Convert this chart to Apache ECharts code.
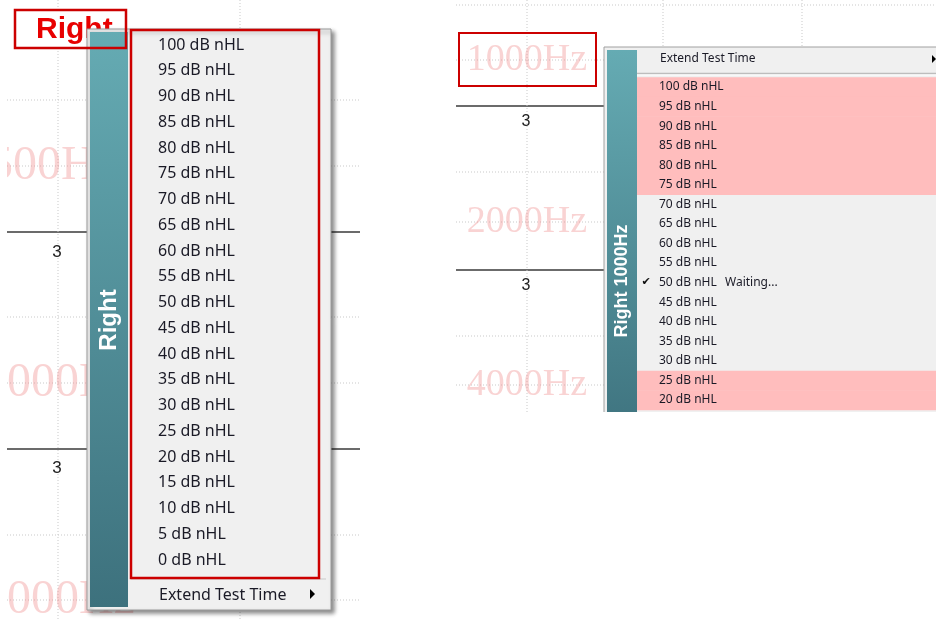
<!DOCTYPE html>
<html>
<head>
<meta charset="utf-8">
<script src="https://cdn.jsdelivr.net/npm/echarts@6/dist/echarts.min.js"></script>
<style>html,body{margin:0;padding:0;background:#fff}#main{width:936px;height:621px}</style>
</head>
<body>
<div id="main"></div>
<script>
// ---- content ----
const leftTitle = 'Right';
const leftSideLabel = 'Right';
const leftLevels = ['100 dB nHL','95 dB nHL','90 dB nHL','85 dB nHL','80 dB nHL','75 dB nHL','70 dB nHL',
  '65 dB nHL','60 dB nHL','55 dB nHL','50 dB nHL','45 dB nHL','40 dB nHL','35 dB nHL','30 dB nHL',
  '25 dB nHL','20 dB nHL','15 dB nHL','10 dB nHL','5 dB nHL','0 dB nHL'];
const extendLabel = 'Extend Test Time';
const leftFreqs = ['500Hz','1000Hz','2000Hz'];
const rightFreqs = ['1000Hz','2000Hz','4000Hz'];
const rowLabel = '3';
const rightSideLabel = 'Right 1000Hz';
const rightLevels = ['100 dB nHL','95 dB nHL','90 dB nHL','85 dB nHL','80 dB nHL','75 dB nHL','70 dB nHL',
  '65 dB nHL','60 dB nHL','55 dB nHL','50 dB nHL','45 dB nHL','40 dB nHL','35 dB nHL','30 dB nHL',
  '25 dB nHL','20 dB nHL'];
const rightHighlighted = ['100 dB nHL','95 dB nHL','90 dB nHL','85 dB nHL','80 dB nHL','75 dB nHL','25 dB nHL','20 dB nHL'];
const rightChecked = '50 dB nHL';
const statusText = 'Waiting...';

// ---- styles ----
const MENU_FONT = '"Noto Sans", "Open Sans", sans-serif';
const TXT = '#1a1a26';
const RED = '#cc0000';
const FAINT = 'rgba(240,150,150,0.42)';
const DOT = '#c9c9c9';
const g = [];

function hline(x1, x2, y, dotted, color, w) {
  g.push({type:'line', silent:true, shape:{x1:x1,y1:y,x2:x2,y2:y},
    style:{stroke:color || (dotted?DOT:'#3a3a3a'), lineWidth:w || (dotted?1:1.5), lineDash: dotted?[1,2]:null}});
}
function vline(x, y1, y2) {
  g.push({type:'line', silent:true, shape:{x1:x,y1:y1,x2:x,y2:y2}, style:{stroke:DOT, lineWidth:1, lineDash:[1,2]}});
}
function text(t, x, y, font, fill, align, extra) {
  g.push(Object.assign({type:'text', silent:true, x:x, y:y,
    style:{text:t, font:font, fill:fill, align:align||'left', verticalAlign:'middle'}}, extra||{}));
}
function tri(x, y, s) {
  g.push({type:'polygon', silent:true, shape:{points:[[x,y-s],[x,y+s],[x+s,y]]}, style:{fill:'#000'}});
}
function sidebar(x, y, w, h) {
  g.push({type:'rect', silent:true, shape:{x:x,y:y,width:w,height:h},
    style:{fill:new echarts.graphic.LinearGradient(0,0,0,1,[{offset:0,color:'#65abb3'},{offset:1,color:'#3d717d'}])}});
}

// ---------------- LEFT PANEL background ----------------
[100,166,317,383,535,600].forEach(y => hline(7, 360, y, true));
[232,449].forEach(y => hline(7, 360, y, false));
vline(58, 0, 621); vline(240, 0, 621);
leftFreqs.forEach((f, i) => text(f, i===0 ? -11 : -17, [166,383,600][i], '48px "Liberation Serif", serif', FAINT));
[252,468].forEach(y => text(rowLabel, 57, y, '17px "Liberation Sans", Arial, sans-serif', '#222', 'center'));
g.push({type:'rect', silent:true, shape:{x:0,y:0,width:7,height:621}, style:{fill:'#fff'}});

// title (under the menu)
g.push({type:'rect', silent:true, shape:{x:15,y:10,width:111,height:38}, style:{fill:'#fff'}});
text(leftTitle, 36, 30, 'bold 30px "Liberation Sans", Arial, sans-serif', '#e80000');

// ---------------- LEFT MENU ----------------
g.push({type:'rect', silent:true, shape:{x:87,y:29,width:244,height:581},
  style:{fill:'#f0f0f0', stroke:'#9a9a9a', lineWidth:1, shadowBlur:4, shadowOffsetX:3, shadowOffsetY:3, shadowColor:'rgba(0,0,0,0.45)'}});
sidebar(90, 32, 38, 575);
text(leftSideLabel, 109, 320, 'bold 24px "Liberation Sans", Arial, sans-serif', '#fff', 'center', {rotation: Math.PI/2});
const lStep = (560 - 45) / (leftLevels.length - 1);
leftLevels.forEach((l, i) => text(l, 158, 45 + i*lStep, '16px ' + MENU_FONT, TXT));
hline(131, 326, 579, false, '#c9c9c9', 1);
text(extendLabel, 159, 595, '16px ' + MENU_FONT, TXT);
tri(310, 594, 5);
// red annotation boxes (on top)
g.push({type:'rect', silent:true, shape:{x:131,y:30,width:188,height:548}, style:{fill:'none', stroke:RED, lineWidth:2.5}});
g.push({type:'rect', silent:true, shape:{x:15,y:10,width:111,height:38}, style:{fill:'none', stroke:RED, lineWidth:2.5}});

// ---------------- RIGHT PANEL background ----------------
[5,60,172,222,336,385].forEach(y => hline(456, 936, y, true));
[106,270].forEach(y => hline(456, 936, y, false));
[527,663,802].forEach(x => vline(x, 0, 412));
rightFreqs.forEach((f, i) => text(f, 527, [60,222,385][i], '38px "Liberation Serif", serif', FAINT, 'center'));
[122,286].forEach(y => text(rowLabel, 526, y, '16px "Liberation Sans", Arial, sans-serif', '#222', 'center'));

// ---------------- RIGHT MENU ----------------
g.push({type:'rect', silent:true, shape:{x:604,y:47,width:360,height:400},
  style:{fill:'#f0f0f0', stroke:'#a0a0a0', lineWidth:1}});
sidebar(607, 50, 30, 400);
text(rightSideLabel, 622, 281, 'bold 18px "Liberation Sans", Arial, sans-serif', '#fff', 'center', {rotation: Math.PI/2});
text(extendLabel, 660, 59, '12px ' + MENU_FONT, TXT);
tri(932, 59, 4);
hline(637, 936, 73.5, false, '#bdbdbd', 1.5);
hline(637, 936, 75, false, '#ffffff', 1);
const rStep = (400 - 87) / (rightLevels.length - 1);
rightLevels.forEach((l, i) => {
  const y = 87 + i*rStep;
  if (rightHighlighted.indexOf(l) >= 0) {
    g.push({type:'rect', silent:true, shape:{x:637,y:y-rStep/2,width:300,height:rStep+0.5}, style:{fill:'#ffbdbd'}});
  }
});
rightLevels.forEach((l, i) => {
  const y = 87 + i*rStep;
  text(l, 659, y, '12px ' + MENU_FONT, TXT);
  if (l === rightChecked) {
    text('\u2714', 646, y, '11px "DejaVu Sans", sans-serif', '#111', 'center');
    text(statusText, 725, y, '12px ' + MENU_FONT, TXT);
  }
});
g.push({type:'rect', silent:true, shape:{x:459,y:33,width:137,height:53}, style:{fill:'none', stroke:RED, lineWidth:2}});
// cropped bottom of right screenshot
g.push({type:'rect', silent:true, shape:{x:440,y:412,width:496,height:209}, style:{fill:'#fff'}});

const chart = echarts.init(document.getElementById('main'), null, {renderer:'canvas'});
chart.setOption({animation:false, backgroundColor:'#fff', graphic:{elements:g}});
</script>
</body>
</html>
